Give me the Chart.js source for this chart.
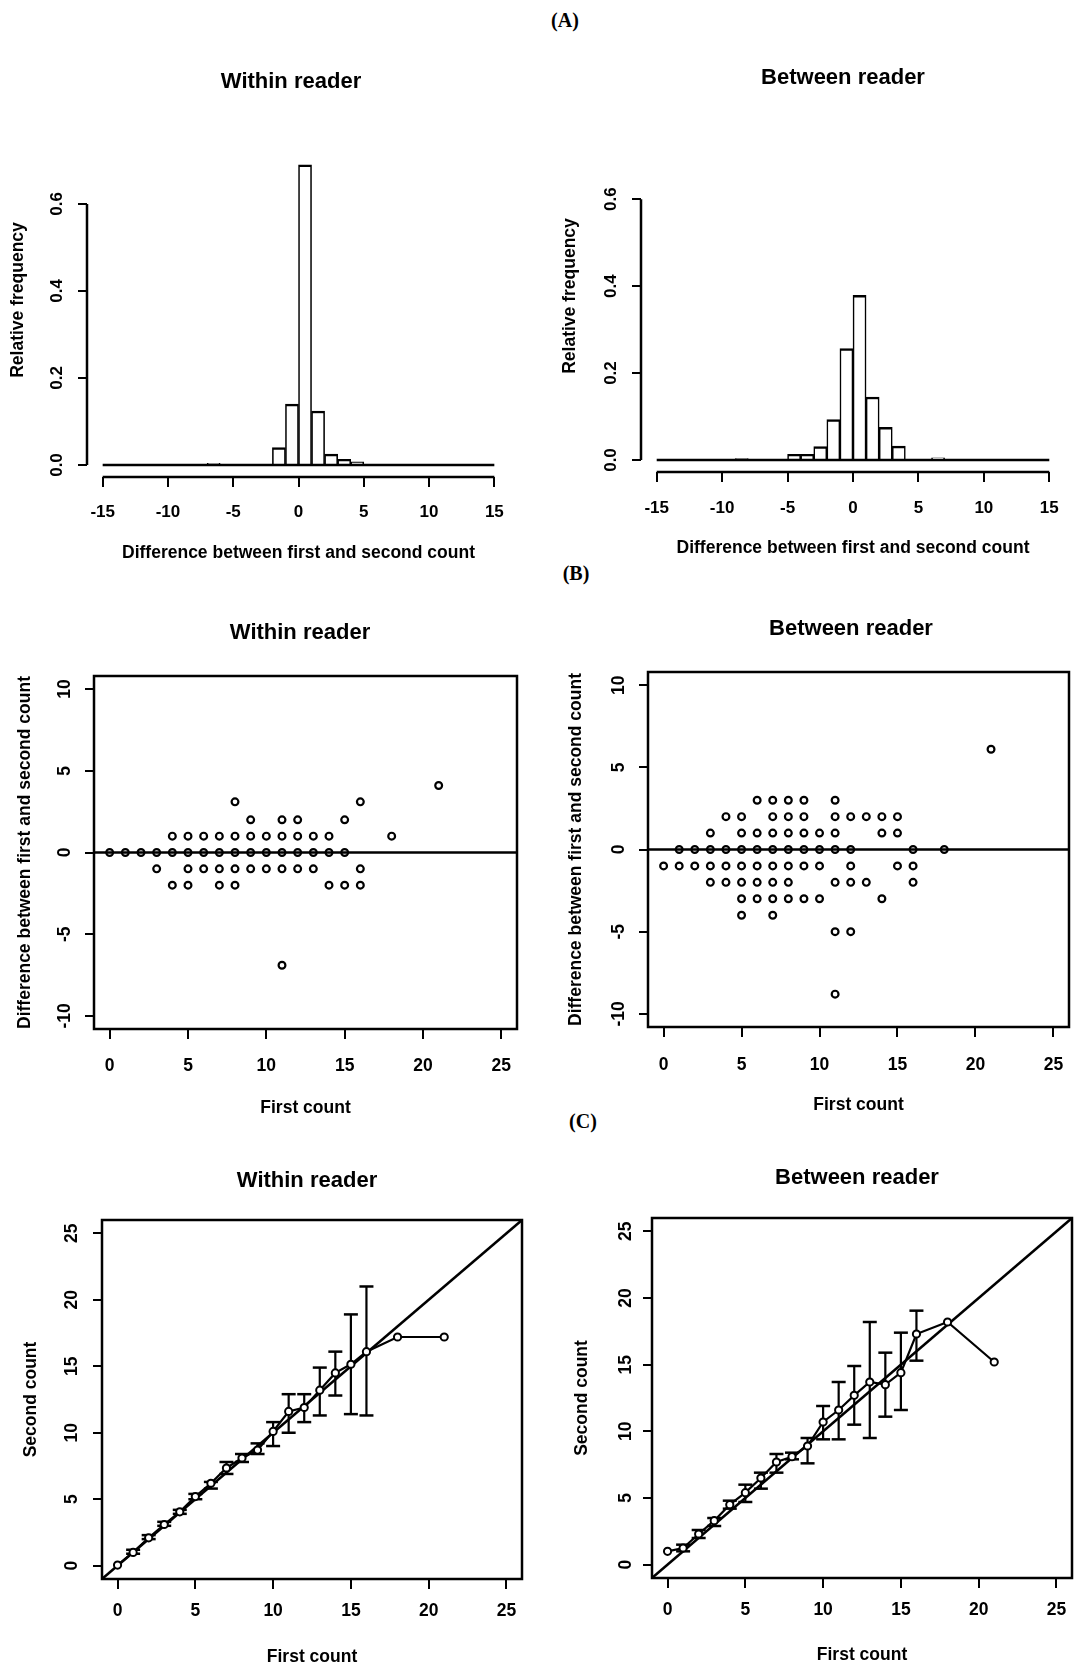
<!DOCTYPE html>
<html>
<head>
<meta charset="utf-8">
<script src="https://cdn.jsdelivr.net/npm/chart.js@4.4.0/dist/chart.umd.min.js"></script>
<style>
html,body{margin:0;padding:0;background:#fff;overflow:hidden;}
#page{position:relative;width:1074px;height:1668px;overflow:hidden;background:#fff;}
#page canvas{position:absolute;}
.plabel{position:absolute;font-family:"Liberation Serif","DejaVu Serif",serif;font-weight:bold;font-size:20px;color:#000;transform:translate(-50%,-50%);white-space:nowrap;}
</style>
</head>
<body>
<div id="page">
  <div class="plabel" style="left:565px;top:20px">(A)</div>
  <div class="plabel" style="left:576px;top:573px">(B)</div>
  <div class="plabel" style="left:583px;top:1121px">(C)</div>
</div>
<script>
// ---------------- DATA ----------------
// (A) histograms: bins of width 1 from -15 to 15 (bin centres)
const histBinCentres = [-14.5,-13.5,-12.5,-11.5,-10.5,-9.5,-8.5,-7.5,-6.5,-5.5,-4.5,-3.5,-2.5,-1.5,-0.5,0.5,1.5,2.5,3.5,4.5,5.5,6.5,7.5,8.5,9.5,10.5,11.5,12.5,13.5,14.5];
const histWithin  = [0,0,0,0,0,0,0,0,0.004,0,0,0,0,0.040,0.140,0.690,0.124,0.025,0.013,0.007,0,0,0,0,0,0,0,0,0,0];
const histBetween = [0,0,0,0,0,0,0.003,0,0,0,0.013,0.013,0.031,0.093,0.256,0.379,0.145,0.075,0.032,0,0,0.005,0,0,0,0,0,0,0,0];
const histBaseX = [-15, 15];
const histXTicks = [-15,-10,-5,0,5,10,15];
const histYTicks = [0,0.2,0.4,0.6];

// (B) difference vs first count
const baWithinX = [0,1,2,3,4,5,6,7,8,9,10,11,12,13,14,15,
                   4,5,6,7,8,9,10,11,12,13,14,18,
                   9,11,12,15,
                   8,16,
                   21,
                   3,5,6,7,8,9,10,11,12,13,16,
                   4,5,7,8,14,15,16,
                   11];
const baWithinY = [0,0,0,0,0,0,0,0,0,0,0,0,0,0,0,0,
                   1,1,1,1,1,1,1,1,1,1,1,1,
                   2,2,2,2,
                   3.1,3.1,
                   4.1,
                   -1,-1,-1,-1,-1,-1,-1,-1,-1,-1,-1,
                   -2,-2,-2,-2,-2,-2,-2,
                   -6.9];
const baBetweenX = [6,7,8,9,11,
                    4,5,7,8,9,11,12,13,14,15,
                    3,5,6,7,8,9,10,11,14,15,
                    1,2,3,4,5,6,7,8,9,10,11,12,16,18,
                    0,1,2,3,4,5,6,7,8,9,10,12,15,16,
                    3,4,5,6,7,8,11,12,13,16,
                    5,6,7,8,9,10,14,
                    5,7,
                    11,12,
                    11,
                    21];
const baBetweenY = [3,3,3,3,3,
                    2,2,2,2,2,2,2,2,2,2,
                    1,1,1,1,1,1,1,1,1,1,
                    0,0,0,0,0,0,0,0,0,0,0,0,0,0,
                    -1,-1,-1,-1,-1,-1,-1,-1,-1,-1,-1,-1,-1,-1,
                    -2,-2,-2,-2,-2,-2,-2,-2,-2,-2,
                    -3,-3,-3,-3,-3,-3,-3,
                    -4,-4,
                    -5,-5,
                    -8.8,
                    6.1];
const baZeroX = [-1, 26];
const baXTicks = [0,5,10,15,20,25];
const baYTicks = [-10,-5,0,5,10];

// (C) second count vs first count (means with error bars)
const calX = [0,1,2,3,4,5,6,7,8,9,10,11,12,13,14,15,16,18,21];
const calWithinMean  = [0.05,1.0,2.1,3.1,4.05,5.2,6.2,7.35,8.1,8.7,10.1,11.6,11.9,13.2,14.5,15.15,16.1,17.2,17.2];
const calBetweenMean = [1.0,1.25,2.3,3.3,4.5,5.4,6.5,7.7,8.1,8.9,10.7,11.6,12.7,13.7,13.5,14.4,17.3,18.2,15.2];
const calErrX = [1,2,3,4,5,6,7,8,9,10,11,12,13,14,15,16];
const calWithinLo  = [0.9,2.0,3.0,3.9,5.0,5.8,6.9,7.8,8.4,9.0,10.0,10.8,11.3,12.8,11.4,11.3];
const calWithinHi  = [1.2,2.3,3.3,4.2,5.4,6.3,7.8,8.4,9.2,10.8,12.9,12.9,14.9,16.1,18.9,21.0];
const calBetweenLo = [1.0,2.0,2.9,4.2,4.7,5.7,6.9,7.9,7.6,9.4,9.4,10.5,9.5,11.1,11.6,15.3];
const calBetweenHi = [1.5,2.6,3.5,4.8,6.0,6.9,8.3,8.4,9.5,11.9,13.7,14.9,18.2,15.9,17.4,19.05];
const identityX = [-1, 26];
const calTicks = [0,5,10,15,20,25];

// ---------------- RENDERING ----------------
const FONT = '"Liberation Sans", Arial, Helvetica, sans-serif';
Chart.defaults.font.family = FONT;
Chart.defaults.color = '#000';
const TITLE_SIZE = 22, TITLE_LH = TITLE_SIZE * 1.2;
const AXT_SIZE = 17.5, AXT_LH = AXT_SIZE * 1.2;
const TL_X = 10, TL_Y = 9;
const page = document.getElementById('page');
const mctx = document.createElement('canvas').getContext('2d');
function widest(labels, size) {
  mctx.font = 'bold ' + size + 'px ' + FONT;
  return Math.max.apply(null, labels.map(l => mctx.measureText(l).width));
}

const framePlugin = {
  id: 'rFrame',
  afterDraw(chart, args, opts) {
    const ctx = chart.ctx, a = chart.chartArea;
    ctx.save();
    ctx.strokeStyle = '#000';
    ctx.lineWidth = 2.5;
    if (opts.box) {
      ctx.strokeRect(a.left, a.top, a.right - a.left, a.bottom - a.top);
    } else {
      const xs = chart.scales.x, ys = chart.scales.y;
      const xt = xs.ticks, yt = ys.ticks;
      ctx.beginPath();
      ctx.moveTo(xs.getPixelForValue(xt[0].value), a.bottom);
      ctx.lineTo(xs.getPixelForValue(xt[xt.length - 1].value), a.bottom);
      ctx.moveTo(a.left, ys.getPixelForValue(yt[0].value));
      ctx.lineTo(a.left, ys.getPixelForValue(yt[yt.length - 1].value));
      ctx.stroke();
    }
    ctx.restore();
  }
};

function axis(range, ticks, fmt, tickLen, size, pad, titleText) {
  return {
    type: 'linear', min: range[0], max: range[1], bounds: 'data', offset: false,
    afterBuildTicks: s => { s.ticks = ticks.map(v => ({ value: v })); },
    grid: { display: true, offset: false, drawOnChartArea: false, drawTicks: true, tickLength: tickLen,
            color: '#000', lineWidth: 2, tickColor: '#000', tickWidth: 2 },
    border: { display: false },
    ticks: { autoSkip: false, font: { size: size, weight: 'bold' }, color: '#000', padding: pad,
             callback: v => fmt(v) },
    title: { display: true, text: titleText, color: '#000',
             font: { size: AXT_SIZE, weight: 'bold' }, padding: { top: 0, bottom: 0 } }
  };
}

function buildPanel(spec) {
  const g = spec.geo;
  const Lp = Math.round(g.yTitleX - AXT_LH / 2);
  const W = Math.round(2 * (g.titleX - Lp));
  const Tp = Math.round(g.titleY - TITLE_LH / 2 - 2);
  const pt = g.titleY - TITLE_LH / 2 - Tp;
  const tb = g.T - (Tp + pt + TITLE_LH);
  const H = Math.round(g.xTitleY + AXT_LH / 2 - Tp);
  const wy = g.L - Lp, wr = Lp + W - g.R, hx = Tp + H - g.B;
  const yLabels = spec.yTicks.map(spec.yFmt);
  const wid = widest(yLabels, spec.tickSize);
  const yPad = g.L - TL_Y - wid / 2 - g.yTickX;
  const xPad = g.xTickY - g.B - TL_X - 0.6 * spec.tickSize;

  const cv = document.createElement('canvas');
  cv.width = W; cv.height = H;
  cv.style.left = Lp + 'px'; cv.style.top = Tp + 'px';
  cv.style.width = W + 'px'; cv.style.height = H + 'px';
  page.appendChild(cv);

  const xAx = axis(spec.xRange, spec.xTicks, spec.xFmt, TL_X, spec.tickSize, xPad, spec.xTitle);
  xAx.position = 'bottom';
  xAx.ticks.maxRotation = 0; xAx.ticks.minRotation = 0;
  xAx.afterFit = s => { s.height = hx; };
  const yAx = axis(spec.yRange, spec.yTicks, spec.yFmt, TL_Y, spec.tickSize, yPad, spec.yTitle);
  yAx.position = 'left';
  yAx.ticks.minRotation = 90; yAx.ticks.maxRotation = 90; yAx.ticks.crossAlign = 'center';
  yAx.afterFit = s => { s.width = wy; };

  new Chart(cv, {
    type: spec.type,
    data: { datasets: spec.datasets },
    plugins: [framePlugin],
    options: {
      responsive: false, animation: false, devicePixelRatio: 1, events: [],
      layout: { padding: { top: pt, left: 0, right: 0, bottom: 0 } },
      plugins: {
        legend: { display: false }, tooltip: { enabled: false },
        title: { display: true, text: spec.title, color: '#000',
                 font: { size: TITLE_SIZE, weight: 'bold', lineHeight: 1.2 },
                 padding: { top: 0, bottom: tb } },
        rFrame: { box: spec.box }
      },
      scales: {
        x: xAx,
        y: yAx,
        y2: { type: 'linear', position: 'right', display: true,
              grid: { display: false }, border: { display: false }, ticks: { display: false },
              afterFit: s => { s.width = wr; } }
      }
    }
  });
}

const fmt1 = v => v.toFixed(1);
const fmt0 = v => String(v);
const pts = (xs, ys) => xs.map((x, i) => ({ x: x, y: ys[i] }));
const errPts = (xs, lo, hi) => {
  const out = [];
  xs.forEach((x, i) => { out.push({ x: x, y: lo[i] }, { x: x, y: hi[i] }, { x: x, y: null }); });
  return out;
};

function histDatasets(freq) {
  return [
    { type: 'line', data: pts(histBaseX, histBaseX.map(() => 0)), borderColor: '#000', borderWidth: 2.5,
      pointRadius: 0, tension: 0 },
    { type: 'bar', data: pts(histBinCentres, freq), backgroundColor: '#fff', borderColor: '#000',
      borderWidth: { top: 2.5, left: 1.6, right: 1.6, bottom: 0 }, borderSkipped: false,
      barPercentage: 1, categoryPercentage: 1 }
  ];
}
function baDatasets(xs, ys) {
  return [
    { data: pts(baZeroX, baZeroX.map(() => 0)), showLine: true, borderColor: '#000', borderWidth: 2.5,
      pointRadius: 0 },
    { data: pts(xs, ys), showLine: false, pointRadius: 3.4, pointBorderWidth: 2.2,
      pointBorderColor: '#000', pointBackgroundColor: 'rgba(0,0,0,0)' }
  ];
}
function calDatasets(means, lo, hi) {
  return [
    { data: pts(calX, means), showLine: true, borderColor: '#000', borderWidth: 2.2, tension: 0,
      pointRadius: 3.6, pointBorderWidth: 2, pointBorderColor: '#000', pointBackgroundColor: '#fff' },
    { data: errPts(calErrX, lo, hi), showLine: true, spanGaps: false, borderColor: '#000', borderWidth: 2.2,
      pointStyle: 'line', pointRadius: 7, pointBorderWidth: 2.5, pointBorderColor: '#000' },
    { data: pts(identityX, identityX), showLine: true, borderColor: '#000', borderWidth: 2.5, pointRadius: 0 }
  ];
}

const panels = [
  { type: 'bar', title: 'Within reader', box: false, tickSize: 17,
    xRange: [-16.2, 16.2], yRange: [-0.0276, 0.786], xTicks: histXTicks, yTicks: histYTicks, xFmt: fmt0, yFmt: fmt1,
    xTitle: 'Difference between first and second count', yTitle: 'Relative frequency',
    datasets: histDatasets(histWithin),
    geo: { L: 87, R: 510, T: 123, B: 477, titleX: 291, titleY: 82, yTitleX: 18, xTitleY: 553, yTickX: 57, xTickY: 512 } },
  { type: 'bar', title: 'Between reader', box: false, tickSize: 17,
    xRange: [-16.2, 16.2], yRange: [-0.0276, 0.782], xTicks: histXTicks, yTicks: histYTicks, xFmt: fmt0, yFmt: fmt1,
    xTitle: 'Difference between first and second count', yTitle: 'Relative frequency',
    datasets: histDatasets(histBetween),
    geo: { L: 641, R: 1065, T: 120, B: 472, titleX: 843, titleY: 78, yTitleX: 570.5, xTitleY: 548, yTickX: 611, xTickY: 508 } },
  { type: 'scatter', title: 'Within reader', box: true, tickSize: 17.5,
    xRange: [-1, 26], yRange: [-10.8, 10.8], xTicks: baXTicks, yTicks: baYTicks, xFmt: fmt0, yFmt: fmt0,
    xTitle: 'First count', yTitle: 'Difference between first and second count',
    datasets: baDatasets(baWithinX, baWithinY),
    geo: { L: 94, R: 517, T: 676, B: 1029, titleX: 300, titleY: 633, yTitleX: 25, xTitleY: 1108, yTickX: 65, xTickY: 1066 } },
  { type: 'scatter', title: 'Between reader', box: true, tickSize: 17.5,
    xRange: [-1, 26], yRange: [-10.8, 10.8], xTicks: baXTicks, yTicks: baYTicks, xFmt: fmt0, yFmt: fmt0,
    xTitle: 'First count', yTitle: 'Difference between first and second count',
    datasets: baDatasets(baBetweenX, baBetweenY),
    geo: { L: 648, R: 1069, T: 672, B: 1027, titleX: 851, titleY: 629, yTitleX: 576, xTitleY: 1105, yTickX: 619, xTickY: 1065 } },
  { type: 'scatter', title: 'Within reader', box: true, tickSize: 17.5,
    xRange: [-1, 26], yRange: [-1, 26], xTicks: calTicks, yTicks: calTicks, xFmt: fmt0, yFmt: fmt0,
    xTitle: 'First count', yTitle: 'Second count',
    datasets: calDatasets(calWithinMean, calWithinLo, calWithinHi),
    geo: { L: 102, R: 522, T: 1220, B: 1579, titleX: 307, titleY: 1181, yTitleX: 31, xTitleY: 1657, yTickX: 72.5, xTickY: 1611 } },
  { type: 'scatter', title: 'Between reader', box: true, tickSize: 17.5,
    xRange: [-1, 26], yRange: [-1, 26], xTicks: calTicks, yTicks: calTicks, xFmt: fmt0, yFmt: fmt0,
    xTitle: 'First count', yTitle: 'Second count',
    datasets: calDatasets(calBetweenMean, calBetweenLo, calBetweenHi),
    geo: { L: 652, R: 1072, T: 1218, B: 1578, titleX: 857, titleY: 1178, yTitleX: 582, xTitleY: 1655, yTickX: 626, xTickY: 1610 } }
];
panels.forEach(buildPanel);
</script>
</body>
</html>
